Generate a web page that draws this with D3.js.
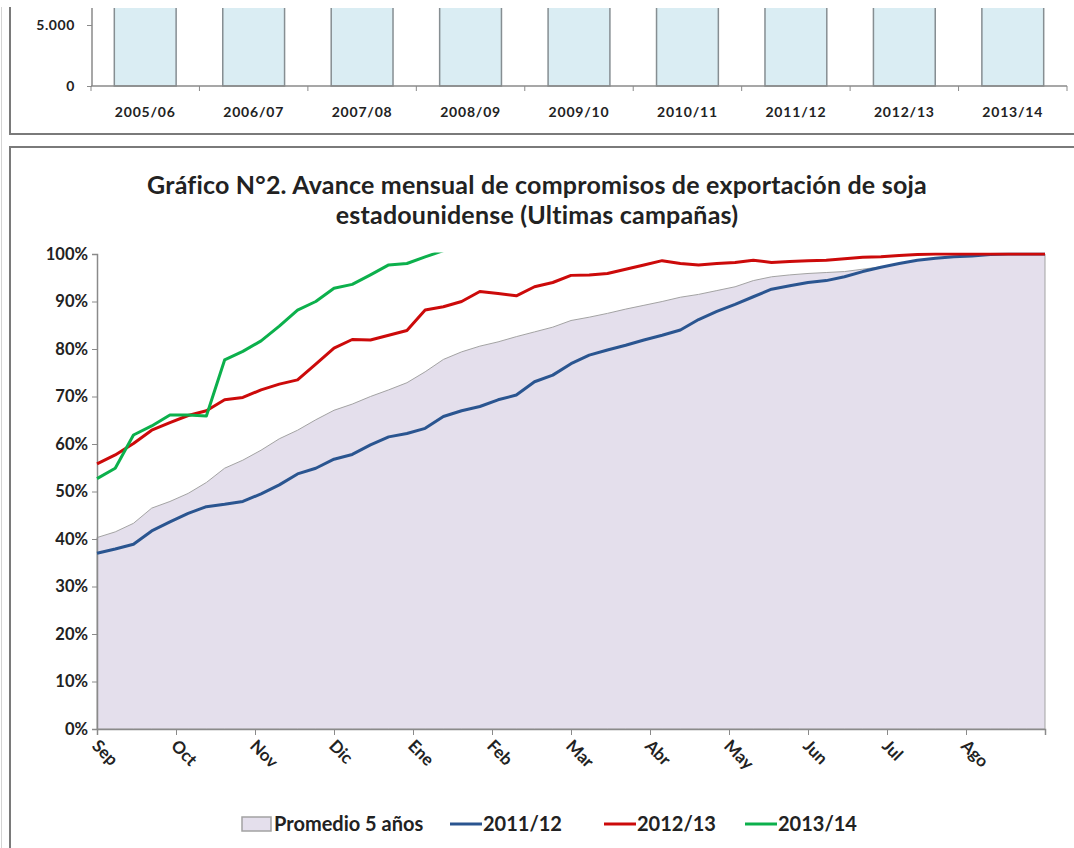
<!DOCTYPE html>
<html>
<head>
<meta charset="utf-8">
<script src="https://cdn.jsdelivr.net/npm/d3@7"></script>
<style>
  body { margin: 0; background: #fff; }
  svg { display: block; font-family: Lato, "Liberation Sans", sans-serif; font-weight: bold; }
</style>
</head>
<body>
<div id="scene"></div>
<script>
// top panel: export totals per campaign (thousand t), only the bottom of the bars is visible
var campaigns = ["2005/06", "2006/07", "2007/08", "2008/09", "2009/10", "2010/11", "2011/12", "2012/13", "2013/14"];
var exportTotals = [25580, 30386, 31538, 34817, 40798, 40957, 37186, 35913, 44594];
var topTicks = [0, 5000];

// main chart: weekly progress of export commitments, Sep -> Ago
var months = ["Sep", "Oct", "Nov", "Dic", "Ene", "Feb", "Mar", "Abr", "May", "Jun", "Jul", "Ago"];
var pctTicks = [0, 0.1, 0.2, 0.3, 0.4, 0.5, 0.6, 0.7, 0.8, 0.9, 1];

var promedio5 = [40.3, 41.5, 43.3, 46.5, 47.9, 49.6, 51.9, 54.9, 56.6, 58.7, 61.1, 62.9, 65.1, 67.1,
  68.4, 70.0, 71.4, 72.9, 75.2, 77.8, 79.4, 80.6, 81.5, 82.6, 83.6, 84.6, 86.0, 86.7, 87.5, 88.4,
  89.2, 90.0, 90.9, 91.5, 92.3, 93.1, 94.4, 95.2, 95.6, 95.9, 96.1, 96.3, 96.8, 97.3, 98.0, 98.7,
  99.1, 99.4, 99.6, 99.8, 99.9, 100, 100];
var camp1112 = [37.0, 37.9, 38.9, 41.7, 43.6, 45.4, 46.8, 47.3, 47.9, 49.5, 51.4, 53.7, 54.9, 56.8,
  57.8, 59.8, 61.5, 62.2, 63.3, 65.8, 67.0, 67.9, 69.3, 70.3, 73.1, 74.5, 76.9, 78.7, 79.8, 80.8,
  81.9, 82.9, 84.0, 86.2, 87.9, 89.4, 91.0, 92.6, 93.3, 94.0, 94.4, 95.2, 96.3, 97.2, 98.0, 98.7,
  99.1, 99.4, 99.6, 99.9, 100, 100, 100];
var camp1213 = [55.8, 57.7, 60.1, 62.9, 64.5, 66.0, 67.0, 69.3, 69.8, 71.4, 72.6, 73.5, 76.8, 80.2,
  82.0, 81.9, 82.9, 83.9, 88.2, 88.9, 90.0, 92.1, 91.7, 91.2, 93.1, 94.0, 95.5, 95.6, 95.9, 96.8,
  97.7, 98.6, 98.0, 97.7, 98.0, 98.2, 98.7, 98.2, 98.4, 98.6, 98.7, 99.0, 99.3, 99.4, 99.7, 99.9,
  100, 100, 100, 100, 100, 100, 100];
var camp1314 = [52.7, 54.9, 61.9, 63.8, 66.1, 66.1, 65.9, 77.7, 79.5, 81.7, 84.8, 88.2, 90.0, 92.8,
  93.6, 95.6, 97.7, 98.0, 99.4, 100.7];

var lineSeries = [
  { name: "2011/12", values: camp1112, color: "#2a5590" },
  { name: "2012/13", values: camp1213, color: "#cc0a0a" },
  { name: "2013/14", values: camp1314, color: "#0cb04c" }
];

var ctx = {
  w: 1074,
  h: 848,
  axisColor: "#8a8a8a",
  areaFill: "#e4dfec",
  barFill: "#daedf3"
};

var svg = d3.select("#scene").append("svg")
  .attr("width", ctx.w)
  .attr("height", ctx.h);

var drawFrames = function () {
  // panel borders, like the spreadsheet chart objects
  svg.append("line").attr("x1", 1.5).attr("x2", 1.5).attr("y1", 0).attr("y2", ctx.h)
    .attr("stroke", "#d4d4d4").attr("stroke-width", 1);
  svg.append("rect").attr("x", 10).attr("y", -20).attr("width", 1100).attr("height", 154)
    .attr("fill", "none").attr("stroke", "#7a7a7a").attr("stroke-width", 2);
  svg.append("rect").attr("x", 10).attr("y", 147).attr("width", 1100).attr("height", 760)
    .attr("fill", "none").attr("stroke", "#7a7a7a").attr("stroke-width", 2);
  // white strip at the very top (cropped screenshot)
  svg.append("rect").attr("x", 0).attr("y", 0).attr("width", ctx.w).attr("height", 7).attr("fill", "#fff");
};

var drawTopChart = function () {
  var x = d3.scaleBand().domain(campaigns).range([91, 1067]).paddingInner(0.43).paddingOuter(0.215);
  var y = d3.scaleLinear().domain([0, 5000]).range([86, 25]);

  svg.append("clipPath").attr("id", "topClip")
    .append("rect").attr("x", 0).attr("y", 8).attr("width", ctx.w).attr("height", 90);

  var g = svg.append("g");

  g.append("g").attr("clip-path", "url(#topClip)")
    .selectAll("rect")
    .data(campaigns)
    .enter()
    .append("rect")
    .attr("x", function (d) { return x(d); })
    .attr("width", x.bandwidth())
    .attr("y", function (d, i) { return y(exportTotals[i]); })
    .attr("height", function (d, i) { return y(0) - y(exportTotals[i]); })
    .attr("fill", ctx.barFill)
    .attr("stroke", "#868e92")
    .attr("stroke-width", 1.5);

  // y axis
  var yAxis = d3.axisLeft(y).tickValues(topTicks).tickSize(5).tickPadding(12)
    .tickFormat(function (d) { return d3.format(",")(d).replace(",", "."); });
  var ya = g.append("g").attr("transform", "translate(92,0)").call(yAxis);
  ya.select(".domain").remove();
  ya.append("line").attr("y1", 8).attr("y2", 86).attr("stroke", ctx.axisColor).attr("stroke-width", 1.5);
  ya.selectAll(".tick line").attr("stroke", ctx.axisColor);
  ya.selectAll("text").attr("fill", "#222").style("font-size", "14px").style("font-family", "Lato, sans-serif")
    .style("font-weight", "bold").style("letter-spacing", "0.6px");

  // x axis: ticks between the bars
  var xa = g.append("g").attr("transform", "translate(0,86)");
  xa.append("line").attr("x1", 91).attr("x2", 1067).attr("stroke", ctx.axisColor).attr("stroke-width", 1.5);
  xa.selectAll("line.tk")
    .data(d3.range(campaigns.length + 1))
    .enter()
    .append("line")
    .attr("class", "tk")
    .attr("x1", function (i) { return 91 + i * x.step(); })
    .attr("x2", function (i) { return 91 + i * x.step(); })
    .attr("y1", 0).attr("y2", 5)
    .attr("stroke", ctx.axisColor);
  xa.selectAll("text")
    .data(campaigns)
    .enter()
    .append("text")
    .attr("x", function (d) { return x(d) + x.bandwidth() / 2; })
    .attr("y", 31)
    .attr("text-anchor", "middle")
    .attr("fill", "#222")
    .style("font-size", "14px")
    .style("letter-spacing", "0.8px")
    .text(function (d) { return d; });
};

var drawMainChart = function () {
  var x = d3.scaleLinear().domain([0, 52]).range([97, 1045]);
  var y = d3.scaleLinear().domain([0, 1]).range([729, 254]);

  // title
  var title = svg.append("text")
    .attr("x", 537)
    .attr("y", 194)
    .attr("text-anchor", "middle")
    .attr("fill", "#222")
    .style("font-size", "25px")
    .style("letter-spacing", "0.2px");
  title.append("tspan").attr("x", 537).text("Gráfico N°2. Avance mensual de compromisos de exportación de soja");
  title.append("tspan").attr("x", 537).attr("dy", 30).text("estadounidense (Ultimas campañas)");

  svg.append("clipPath").attr("id", "plotClip")
    .append("rect").attr("x", 90).attr("y", y(1) - 1.5).attr("width", 970).attr("height", 500);

  // area: 5 year average
  var area = d3.area()
    .x(function (d, i) { return x(i); })
    .y0(y(0))
    .y1(function (d) { return y(d / 100); });

  svg.append("path")
    .datum(promedio5)
    .attr("d", area)
    .attr("fill", ctx.areaFill)
    .attr("stroke", "#a3a3a3")
    .attr("stroke-width", 1);

  // y axis
  var yAxis = d3.axisLeft(y).tickValues(pctTicks).tickSize(5).tickPadding(4).tickFormat(d3.format(".0%"));
  var ya = svg.append("g").attr("transform", "translate(97,0)").call(yAxis);
  ya.select(".domain").attr("stroke", ctx.axisColor).attr("stroke-width", 1.5);
  ya.selectAll(".tick line").attr("stroke", ctx.axisColor);
  ya.selectAll("text").attr("fill", "#222").style("font-size", "16.5px").style("font-family", "Lato, sans-serif")
    .style("font-weight", "bold");

  // x axis with month ticks
  var monthTicks = d3.range(months.length + 1).map(function (i) { return i * 52 / months.length; });
  var xAxis = d3.axisBottom(x).tickValues(monthTicks).tickSize(6).tickFormat("");
  var xa = svg.append("g").attr("transform", "translate(0,729)").call(xAxis);
  xa.select(".domain").attr("stroke", ctx.axisColor).attr("stroke-width", 1.5);
  xa.selectAll(".tick line").attr("stroke", ctx.axisColor);

  svg.append("g")
    .selectAll("text")
    .data(months)
    .enter()
    .append("text")
    .attr("transform", function (d, i) {
      return "translate(" + (x(monthTicks[i]) - 6) + ",747) rotate(45)";
    })
    .attr("fill", "#222")
    .style("font-size", "17px")
    .text(function (d) { return d; });

  // lines
  var line = d3.line()
    .x(function (d, i) { return x(i); })
    .y(function (d) { return y(d / 100); });

  svg.append("g").attr("clip-path", "url(#plotClip)")
    .selectAll("path")
    .data(lineSeries)
    .enter()
    .append("path")
    .attr("d", function (d) { return line(d.values); })
    .attr("fill", "none")
    .attr("stroke", function (d) { return d.color; })
    .attr("stroke-width", 3)
    .attr("stroke-linejoin", "round");

  // legend
  var lg = svg.append("g").attr("transform", "translate(0,824)");
  lg.append("rect").attr("x", 242).attr("y", -7).attr("width", 29).attr("height", 14)
    .attr("fill", ctx.areaFill).attr("stroke", "#a3a3a3").attr("stroke-width", 1.5);
  lg.append("text").attr("x", 274).attr("y", 7).attr("fill", "#222").style("font-size", "20px").text("Promedio 5 años");

  var legendX = [450, 604, 745];
  lineSeries.forEach(function (s, i) {
    lg.append("line").attr("x1", legendX[i]).attr("x2", legendX[i] + 32).attr("y1", 0).attr("y2", 0)
      .attr("stroke", s.color).attr("stroke-width", 3);
    lg.append("text").attr("x", legendX[i] + 33).attr("y", 7).attr("fill", "#222")
      .style("font-size", "20px").text(s.name);
  });
};

drawTopChart();
drawMainChart();
drawFrames();
</script>
</body>
</html>
